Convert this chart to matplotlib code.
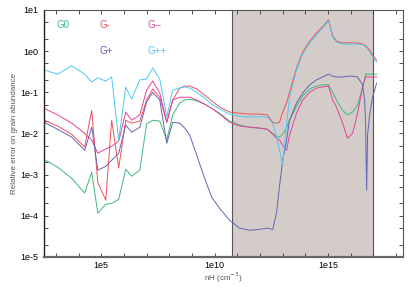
import numpy as np
import matplotlib
matplotlib.use("Agg")
import matplotlib.pyplot as plt
from matplotlib.ticker import NullFormatter

plt.rcParams['font.family'] = ['Liberation Sans', 'DejaVu Sans']

# density grid, log10(nH / cm^-3)
log_nh = [2.48, 3.08, 3.70, 4.27, 4.58, 4.85, 5.20, 5.46, 5.77, 6.08, 6.34, 6.70,
          7.00, 7.27, 7.58, 7.89, 8.15, 8.46, 8.68, 8.90, 9.21, 9.56, 9.87, 10.22,
          10.66, 11.10, 11.54, 11.98, 12.33, 12.56, 12.73, 12.86, 13.00, 13.17, 13.30,
          13.61, 13.88, 14.19, 14.49, 14.76, 15.02, 15.20, 15.37, 15.64, 15.86, 16.08,
          16.30, 16.52, 16.61, 16.65, 16.70, 16.74, 16.83, 16.96, 17.14]

# log10 of the relative error for each grain charge
g0 = [-2.63, -2.82, -3.09, -3.45, -2.94, -3.94, -3.72, -3.70, -3.60, -2.87, -3.04, -2.89,
      -1.77, -1.68, -1.70, -2.16, -1.55, -1.26, -1.19, -1.17, -1.21, -1.29, -1.39, -1.51,
      -1.70, -1.80, -1.85, -1.87, -1.90, -2.00, -2.07, -2.09, -2.02, -1.87, -1.68,
      -1.34, -1.09, -0.92, -0.85, -0.82, -0.82, -1.00, -1.19, -1.44, -1.55, -1.48,
      -1.31, -0.90, -0.70, -0.56, -0.56, -0.56, -0.56, -0.56, -0.56]
g_minus = [-1.68, -1.82, -2.02, -2.33, -1.44, -3.19, -3.62, -1.68, -2.84, -1.68, -1.75, -1.70,
           -1.19, -0.92, -1.12, -1.73, -1.19, -0.90, -0.85, -0.85, -0.92, -1.07, -1.21, -1.36,
           -1.48, -1.51, -1.53, -1.53, -1.55, -1.73, -1.75, -1.73, -1.48, -1.26, -1.00,
           -0.41, -0.02, 0.24, 0.44, 0.59, 0.76, 0.37, 0.24, 0.20, 0.20, 0.20,
           0.20, 0.17, 0.15, 0.13, 0.10, 0.08, 0.03, -0.09, -0.22]
g_mm = [-1.39, -1.55, -1.75, -2.00, -2.16, -2.48, -2.38, -2.31, -2.19, -1.48, -1.68, -1.55,
        -0.95, -0.73, -1.02, -1.73, -1.19, -1.12, -1.12, -1.12, -1.19, -1.29, -1.39, -1.53,
        -1.73, -1.82, -1.85, -1.87, -1.90, -2.02, -2.12, -2.16, -2.29, -2.41, -2.04,
        -1.51, -1.19, -1.00, -0.90, -0.87, -0.85, -1.19, -1.36, -1.75, -2.12, -2.00,
        -1.51, -0.87, -0.70, -0.63, -0.63, -0.63, -0.63, -0.63, -0.63]
g_plus = [-1.73, -1.90, -2.09, -2.41, -1.85, -2.89, -2.80, -2.65, -2.48, -1.80, -1.97, -1.85,
          -1.24, -1.00, -1.19, -2.24, -1.73, -1.75, -1.87, -2.04, -2.53, -3.09, -3.55, -3.82,
          -4.11, -4.30, -4.35, -4.33, -4.30, -4.33, -3.92, -3.28, -2.65, -2.16, -1.68,
          -1.26, -1.02, -0.82, -0.70, -0.63, -0.56, -0.61, -0.63, -0.63, -0.61, -0.61,
          -0.63, -0.82, -1.19, -1.68, -3.38, -2.04, -1.55, -1.12, -0.78]
g_pp = [-0.46, -0.56, -0.36, -0.56, -0.75, -0.65, -0.73, -0.63, -2.16, -0.87, -1.17, -0.70,
        -0.68, -0.41, -0.68, -1.60, -0.95, -0.90, -0.87, -0.90, -1.00, -1.14, -1.29, -1.41,
        -1.53, -1.58, -1.60, -1.60, -1.60, -1.75, -2.09, -2.41, -2.75, -1.80, -1.12,
        -0.46, -0.07, 0.20, 0.39, 0.56, 0.73, 0.34, 0.22, 0.17, 0.17, 0.17,
        0.17, 0.15, 0.13, 0.10, 0.08, 0.05, -0.02, -0.14, -0.26]

names = ['G0', 'G-', 'G--', 'G+', 'G++']
colors = ['#3dba78', '#f0505a', '#e8409a', '#6464b4', '#50c8f0']
shade_lo, shade_hi = 5.6e10, 9.5e16

nh = 10 ** np.array(log_nh)
series = [g0, g_minus, g_mm, g_plus, g_pp]

fig = plt.figure(figsize=(4.15, 2.91), dpi=100)
ax = fig.add_axes([0.106, 0.117, 0.865, 0.849])

ax.axvspan(shade_lo, shade_hi, facecolor='#d4ccc9', edgecolor='none', zorder=0)
ax.axvline(shade_lo, color='#555555', lw=0.8, zorder=1)
ax.axvline(shade_hi, color='#555555', lw=0.8, zorder=1)

for vals, c in zip(series, colors):
    ax.plot(nh, 10 ** np.array(vals), color=c, lw=0.7, zorder=2)

ax.set_xscale('log')
ax.set_yscale('log')
ax.set_xlim(3e2, 2e18)
ax.set_ylim(1e-5, 1e1)

ax.set_xticks([1e5, 1e10, 1e15])
ax.set_xticklabels(['1e5', '1e10', '1e15'])
ax.set_xticks([10.0 ** k for k in range(3, 19)], minor=True)
ax.set_yticks([10.0 ** k for k in range(-5, 2)])
ax.set_yticklabels(['1e-5', '1e-4', '1e-3', '1e-2', '1e-1', '1e0', '1e1'])
ax.set_yticks([m * 10.0 ** k for k in range(-5, 1) for m in (2, 5)], minor=True)
ax.xaxis.set_minor_formatter(NullFormatter())
ax.yaxis.set_minor_formatter(NullFormatter())
ax.tick_params(which='both', direction='in', top=True, right=True, length=3,
               width=0.6, color='#333333', labelsize=6.5, pad=4)
ax.tick_params(axis='x', which='major', pad=3)

for s in ['top', 'right']:
    ax.spines[s].set_color('#555555')
    ax.spines[s].set_linewidth(0.8)
ax.spines['left'].set_color('#222222')
ax.spines['left'].set_linewidth(1.0)
ax.spines['bottom'].set_color('#666666')
ax.spines['bottom'].set_linewidth(1.6)

ax.set_ylabel('Relative error on grain abundance', fontsize=5.8, color='#555555', labelpad=2)
ax.set_xlabel('nH (cm$^{-3}$)', fontsize=5.8, color='#555555', labelpad=0)

lab_pos = [(0.036, 0.939), (0.156, 0.939), (0.287, 0.939), (0.156, 0.834), (0.287, 0.834)]
for name, c, (px, py) in zip(names, colors, lab_pos):
    ax.text(px, py, name, color=c, fontsize=7, transform=ax.transAxes, va='center')

fig.savefig('out.png', dpi=100)
